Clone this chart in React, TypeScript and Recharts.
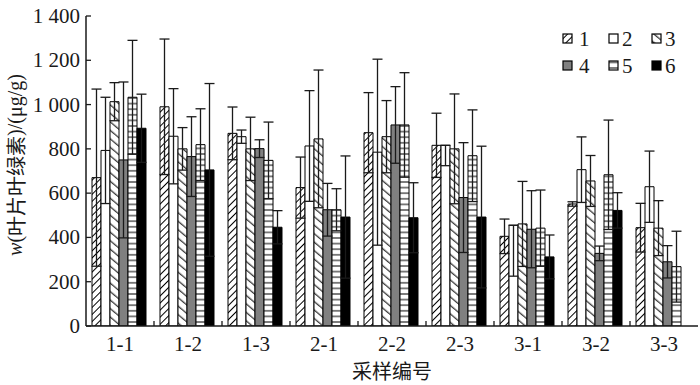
import React from "react";
import { BarChart, Bar, XAxis, YAxis, ErrorBar, Legend, Label } from "recharts";

// 采样编号
const categories = ["1-1", "1-2", "1-3", "2-1", "2-2", "2-3", "3-1", "3-2", "3-3"];
const seriesNames = ["1", "2", "3", "4", "5", "6"];

// w(叶片叶绿素) 平均值, μg/g
const series1 = [670, 990, 870, 625, 873, 816, 405, 551, 444];
const series2 = [793, 857, 855, 813, 785, 816, 455, 706, 629];
const series3 = [1013, 800, 800, 845, 855, 800, 461, 655, 442];
const series4 = [750, 765, 801, 525, 908, 580, 437, 328, 290];
const series5 = [1033, 819, 748, 525, 908, 769, 442, 683, 268];
const series6 = [893, 705, 446, 492, 489, 492, 312, 522, null];

// 误差 (数组为 [下, 上])
const err1 = [400, 306, 119, 138, 181, 145, 78, 10, 110];
const err2: (number | number[])[] = [240, 215, 30, 250, 420, [92, 0], [230, 0], 148, 161];
const err3 = [86, 96, 143, 311, 163, 248, 192, 115, 124];
const err4 = [352, 180, 40, 119, 173, 248, 174, 33, 73];
const err5 = [257, 162, 173, 95, 236, 207, 172, 247, 160];
const err6 = [154, 390, 75, 276, 158, 320, 99, 80, null];

const yTicks = [0, 200, 400, 600, 800, 1000, 1200, 1400];

const values = [series1, series2, series3, series4, series5, series6];
const errors = [err1, err2, err3, err4, err5, err6];

const data = categories.map((cat, i) => {
  const row: Record<string, unknown> = { cat };
  values.forEach((vals, s) => {
    row[`s${s + 1}`] = vals[i];
    row[`e${s + 1}`] = errors[s][i];
  });
  return row;
});

const FILLS = ["url(#hatch1)", "#ffffff", "url(#hatch3)", "#808080", "url(#hatch5)", "#000000"];
const SERIF = '"Liberation Serif", "Times New Roman", serif';
const CJK = '"Noto Sans CJK SC", sans-serif';
const INK = "#1a1a1a";

function fmt(v: number) {
  if (v >= 1000) return `${Math.floor(v / 1000)} ${String(v % 1000).padStart(3, "0")}`;
  return String(v);
}

function YTick(props: any) {
  const { x, y, payload } = props;
  return (
    <g>
      <line x1={x} y1={y} x2={x + 5} y2={y} stroke={INK} strokeWidth={1.3} />
      <text x={x - 6} y={y} dy={7} textAnchor="end" style={{ fontFamily: SERIF, fontSize: 21 }} fill={INK}>
        {fmt(payload.value)}
      </text>
    </g>
  );
}

function XTick(props: any) {
  const { x, y, payload } = props;
  const idx = payload.index ?? props.index ?? 0;
  const half = payload.offset ?? 34;
  return (
    <g>
      {idx < categories.length - 1 && (
        <line x1={x + half} y1={y} x2={x + half} y2={y - 5} stroke={INK} strokeWidth={1.3} />
      )}
      <text x={x} y={y + 25} textAnchor="middle" style={{ fontFamily: SERIF, fontSize: 21 }} fill={INK}>
        {payload.value}
      </text>
    </g>
  );
}

function YTitle(props: any) {
  const vb = props.viewBox ?? { x: 0, y: 16, width: 86, height: 310 };
  const cx = vb.x + 15;
  const cy = vb.y + vb.height / 2 - 6;
  return (
    <text
      x={cx}
      y={cy}
      transform={`rotate(-90 ${cx} ${cy})`}
      textAnchor="middle"
      dominantBaseline="central"
      style={{ fontFamily: SERIF, fontSize: 20 }}
      fill={INK}
    >
      <tspan style={{ fontStyle: "italic" }}>w</tspan>
      <tspan>(</tspan>
      <tspan style={{ fontFamily: CJK }}>叶片叶绿素</tspan>
      <tspan>)/(μg/g)</tspan>
    </text>
  );
}

function XTitle(props: any) {
  const vb = props.viewBox ?? { x: 86, y: 326, width: 612, height: 59 };
  return (
    <text x={vb.x + vb.width / 2} y={vb.y + 53} textAnchor="middle" style={{ fontFamily: CJK, fontSize: 20 }} fill={INK}>
      采样编号
    </text>
  );
}

const ICON_X = [5, 51, 94];
const TEXT_X = [21, 64, 107];
const ROW_Y = [13, 40];

function LegendGrid(props: any) {
  const payload = props.payload ?? [];
  return (
    <svg width={140} height={55} style={{ display: "block" }}>
      {payload.map((p: any, i: number) => {
        const col = i % 3;
        const row = Math.floor(i / 3);
        const cy = ROW_Y[row];
        return (
          <g key={`lg-${i}`}>
            <rect x={ICON_X[col]} y={cy - 5} width={9} height={9} fill={FILLS[i]} stroke="#000" strokeWidth={1.2} />
            <text x={TEXT_X[col]} y={cy + 7} style={{ fontFamily: SERIF, fontSize: 21 }} fill={INK}>
              {p.value}
            </text>
          </g>
        );
      })}
    </svg>
  );
}

function Patterns() {
  return (
    <svg width={0} height={0} style={{ position: "absolute" }}>
      <defs>
        <pattern id="hatch1" patternUnits="userSpaceOnUse" width={6} height={5} patternTransform="rotate(-45)">
          <rect width={6} height={5} fill="#fff" />
          <line x1={0} y1={2.5} x2={6} y2={2.5} stroke="#000" strokeWidth={1} />
        </pattern>
        <pattern id="hatch3" patternUnits="userSpaceOnUse" width={6} height={6.5} patternTransform="rotate(40)">
          <rect width={6} height={6.5} fill="#fff" />
          <line x1={0} y1={3} x2={6} y2={3} stroke="#000" strokeWidth={1} />
        </pattern>
        <pattern id="hatch5" patternUnits="userSpaceOnUse" width={6} height={5.6}>
          <rect width={6} height={5.6} fill="#fff" />
          <line x1={0} y1={2.8} x2={6} y2={2.8} stroke="#000" strokeWidth={1} />
        </pattern>
      </defs>
    </svg>
  );
}

const axisLine = { stroke: INK, strokeWidth: 1.5 };

export default function App() {
  return (
    <div style={{ position: "absolute", left: 0, top: 0, width: 700, height: 385, background: "#fff" }}>
      <Patterns />
      <BarChart
        width={700}
        height={385}
        data={data}
        margin={{ top: 16, right: 2, bottom: 0, left: 0 }}
        barCategoryGap={6}
        barGap={0}
      >
        <XAxis
          dataKey="cat"
          height={59}
          interval={0}
          tickSize={0}
          tickMargin={0}
          tickLine={false}
          tick={<XTick />}
          axisLine={axisLine}
        >
          <Label content={<XTitle />} />
        </XAxis>
        <XAxis xAxisId="top" dataKey="cat" orientation="top" height={0} tick={false} tickLine={false} axisLine={axisLine} />
        <YAxis
          width={86}
          domain={[0, 1400]}
          ticks={yTicks}
          allowDataOverflow
          interval={0}
          tickSize={0}
          tickMargin={0}
          tickLine={false}
          tick={<YTick />}
          axisLine={axisLine}
        >
          <Label content={<YTitle />} />
        </YAxis>
        <YAxis yAxisId="right" orientation="right" width={0} domain={[0, 1400]} tick={false} tickLine={false} axisLine={axisLine} />
        <Legend
          layout="vertical"
          align="center"
          verticalAlign="middle"
          content={<LegendGrid />}
          wrapperStyle={{ left: 558, top: 26, width: 140, height: 55 }}
        />
        {seriesNames.map((name, s) => (
          <Bar
            key={name}
            dataKey={`s${s + 1}`}
            name={name}
            fill={FILLS[s]}
            stroke="#000"
            strokeWidth={1}
            isAnimationActive={false}
          >
            <ErrorBar dataKey={`e${s + 1}`} width={5} stroke={INK} strokeWidth={1.3} direction="y" isAnimationActive={false} />
          </Bar>
        ))}
      </BarChart>
    </div>
  );
}
